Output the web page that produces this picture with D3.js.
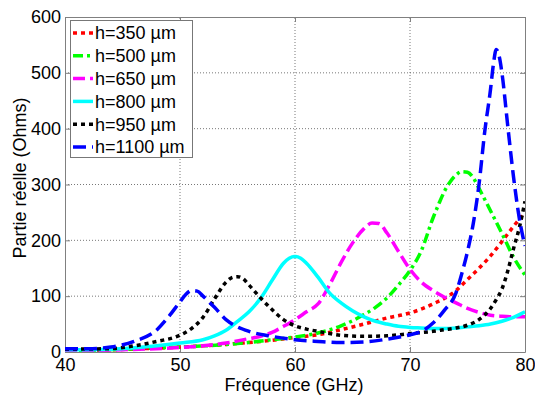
<!DOCTYPE html>
<html><head><meta charset="utf-8">
<script src="https://cdn.jsdelivr.net/npm/d3@7"></script>
<style>body{margin:0;background:#fff}svg{display:block;font-family:"Liberation Sans",Arial,sans-serif}</style>
</head><body><div id="chart"></div>
<script>
const xTicks = [40, 50, 60, 70, 80];
const yTicks = [0, 100, 200, 300, 400, 500, 600];
const seriesNames = ["h=350 µm", "h=500 µm", "h=650 µm", "h=800 µm", "h=950 µm", "h=1100 µm"];
const seriesColors = ["#ff0000", "#00ff00", "#ff00ff", "#00ffff", "#000000", "#0000ff"];

const f350 = [40,44,48,52,56,58,60,62,64,66,68,70,72,74,75,76,77,78,79,80];
const v350 = [2,4,7,11,17,21,26,31,40,50,61,70,86,110,130,150,172,198,225,250];

const f500 = [40,45,50,55,58,60,62,64,66,67,68,69,70,71,72,72.5,73,73.5,74,74.5,75,75.5,76,77,78,79,80];
const v500 = [2,5,9,15,22,27,34,47,67,80,97,120,146,182,240,265,288,305,317,323,322,312,293,253,212,170,138];

const f650 = [40,45,50,52,54,56,57,58,59,60,61,62,63,64,65,66,66.7,67.3,68,69,70,71,72,73,74,75,76,77,78,79,80];
const v650 = [2,4,8,11,16,24,28,35,46,58,72,86,120,160,195,221,231,230,213,180,148,125,110,98,88,78,71,66,64,63,63];

const f800 = [40,44,48,50,52,53,54,55,56,57,58,59,59.5,60,60.5,61,62,63,64,65,66,67,68,69,70,71,72,73,74,75,76,77,78,79,80];
const v800 = [4,5,11,16,22,29,39,55,72,96,128,159,168,171,168,159,134,106,88,74,63,55,50,46,44,43,42,42,43,45,47,50,55,62,72];

const f950 = [40,44,46,48,50,51,52,53,54,54.6,55,55.5,56,57,58,59,60,61,62,63,64,66,68,70,72,73,74,75,76,77,77.5,78,78.5,79,79.5,80];
const v950 = [5,6,11,19,30,42,62,95,125,134,135,131,120,97,76,58,47,41,37,33,30,28,29,33,37,40,43,48,58,78,94,113,145,185,222,270];

const f1100 = [40,42,44,46,48,49,50,50.5,51,51.5,52,53,54,55,56,58,60,62,64,66,68,70,71,72,73,74,74.5,75,75.5,76,76.5,77,77.25,77.5,77.75,78,78.5,79,79.5,80];
const v1100 = [6,6,9,19,40,63,90,103,110,109,100,80,58,45,37,28,22,19,17,18,23,31,37,52,75,106,140,180,230,300,395,470,515,542,530,499,405,314,240,190];

const seriesFreqs = [f350, f500, f650, f800, f950, f1100];
const seriesValues = [v350, v500, v650, v800, v950, v1100];
const seriesDash = ["4,4", "10,4,3,4", "12,5", null, "4,4", "13,6"];

const W = 535, H = 397;
const m = {left: 65, right: 10, top: 17, bottom: 45};
const FONT = "'Liberation Sans', Arial, sans-serif";
const svg = d3.select("#chart").append("svg").attr("width", W).attr("height", H);
const x = d3.scaleLinear().domain([40, 80]).range([m.left, W - m.right]);
const y = d3.scaleLinear().domain([0, 600]).range([H - m.bottom, m.top]);

// grid
const grid = svg.append("g").attr("stroke", "#555").attr("stroke-width", 0.8).attr("stroke-dasharray", "1,2");
xTicks.slice(1, -1).forEach(t => grid.append("line").attr("x1", x(t)).attr("x2", x(t)).attr("y1", y(0)).attr("y2", y(600)));
yTicks.slice(1, -1).forEach(t => grid.append("line").attr("x1", x(40)).attr("x2", x(80)).attr("y1", y(t)).attr("y2", y(t)));

// axes (ticks inside)
const axB = svg.append("g").attr("transform", `translate(0,${y(0)})`).call(d3.axisBottom(x).tickValues(xTicks).tickSizeInner(-5).tickSizeOuter(0));
const axL = svg.append("g").attr("transform", `translate(${x(40)},0)`).call(d3.axisLeft(y).tickValues(yTicks).tickSizeInner(-5).tickSizeOuter(0).tickPadding(4));
const axT = svg.append("g").attr("transform", `translate(0,${y(600)})`).call(d3.axisTop(x).tickValues(xTicks).tickSizeInner(-5).tickSizeOuter(0).tickFormat(""));
const axR = svg.append("g").attr("transform", `translate(${x(80)},0)`).call(d3.axisRight(y).tickValues(yTicks).tickSizeInner(-5).tickSizeOuter(0).tickFormat(""));
[axB, axL, axT, axR].forEach(a => {
  a.select(".domain").attr("stroke", "#808080");
  a.selectAll(".tick line").attr("stroke", "#808080");
  a.selectAll("text").attr("fill", "#000").style("font-size", "18px").style("font-family", FONT);
});
axB.selectAll("text").attr("y", 18.5).attr("dy", "0");

// curves
const line = d3.line().x(d => x(d[0])).y(d => y(d[1])).curve(d3.curveMonotoneX);
svg.append("clipPath").attr("id", "clp").append("rect").attr("x", x(40)).attr("y", y(600)).attr("width", x(80) - x(40)).attr("height", y(0) - y(600));
const plot = svg.append("g").attr("clip-path", "url(#clp)");
seriesNames.forEach((n, i) => {
  const pts = seriesFreqs[i].map((f, j) => [f, seriesValues[i][j]]);
  const p = plot.append("path").attr("d", line(pts)).attr("fill", "none")
    .attr("stroke", seriesColors[i]).attr("stroke-width", 3.5);
  if (seriesDash[i]) p.attr("stroke-dasharray", seriesDash[i]);
});

// labels
svg.append("text").attr("x", 294).attr("y", 390.5).attr("text-anchor", "middle")
  .style("font-size", "18px").style("font-family", FONT).text("Fréquence (GHz)");
svg.append("text").attr("transform", `translate(25.5,178) rotate(-90)`).attr("text-anchor", "middle")
  .style("font-size", "18px").style("font-family", FONT).text("Partie réelle (Ohms)");

// legend
const lg = svg.append("g");
lg.append("rect").attr("x", 70.5).attr("y", 20.5).attr("width", 122).attr("height", 137).attr("fill", "#fff").attr("stroke", "#777").attr("stroke-width", 1);
seriesNames.forEach((n, i) => {
  const yy = 33 + i * 22.8;
  const l = lg.append("line").attr("x1", 73).attr("x2", 93).attr("y1", yy).attr("y2", yy)
    .attr("stroke", seriesColors[i]).attr("stroke-width", 3.5);
  if (seriesDash[i]) l.attr("stroke-dasharray", seriesDash[i]);
  lg.append("text").attr("x", 95).attr("y", yy).attr("dy", "0.35em").style("font-size", "18px").style("font-family", FONT).text(n);
});
</script></body></html>
